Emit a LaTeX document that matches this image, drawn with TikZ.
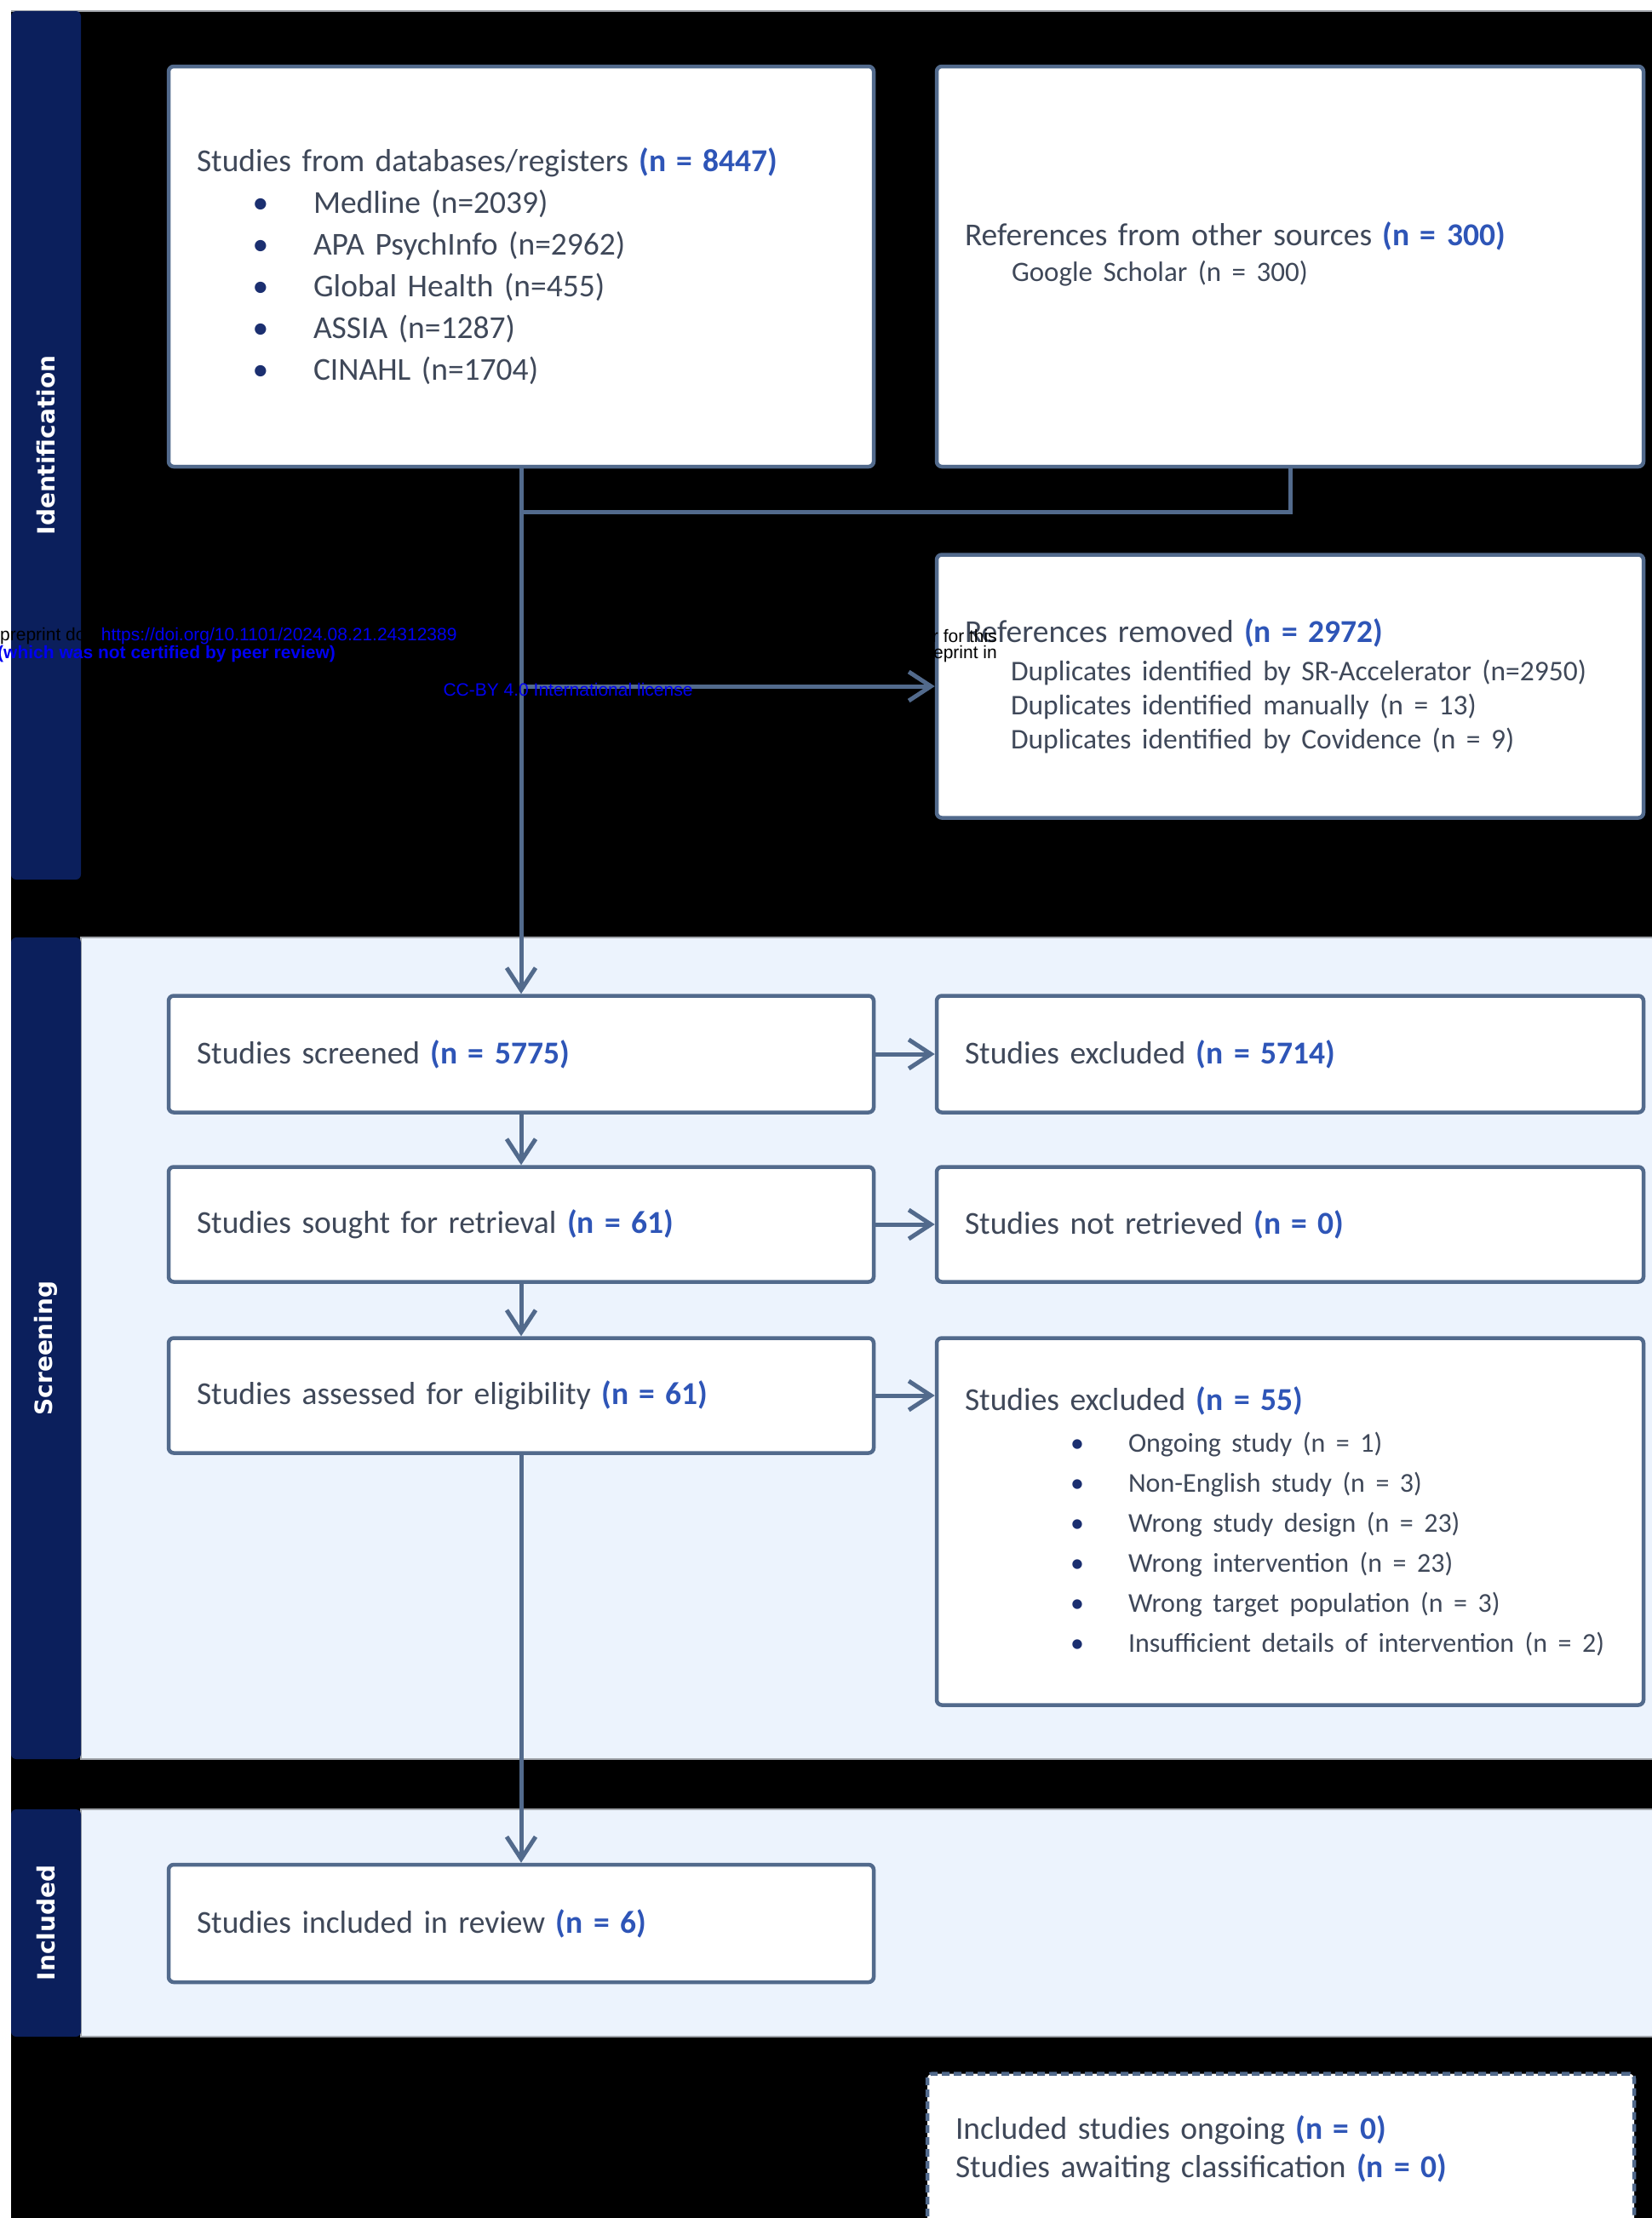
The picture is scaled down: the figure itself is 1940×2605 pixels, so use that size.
\documentclass[tikz,border=0pt]{standalone}
\usepackage{fontspec}
\setmainfont{Carlito}
\newfontfamily\stagefont{DejaVu Sans}
\newfontfamily\markfont{Liberation Sans}
\usetikzlibrary{arrows.meta}
\definecolor{pfText}{HTML}{3F4859}
\definecolor{pfNum}{HTML}{2E55B7}
\definecolor{pfBullet}{HTML}{1B2F70}
\definecolor{pfLine}{HTML}{526A8C}
\definecolor{pfNavy}{HTML}{0B1F5C}
\definecolor{pfBand}{HTML}{ECF3FD}
\definecolor{pfRule}{HTML}{A0A4AA}
\definecolor{pfLink}{HTML}{0000F0}
\newcommand\pfn[1]{\textcolor{pfNum}{\bfseries #1}}
\newcommand\pfitem[3]{\hspace*{#1}\makebox[0pt]{\textcolor{pfBullet}{\textbullet}}\hspace*{#2}#3}
\tikzset{
  pf box/.style={draw=pfLine, fill=white, line width=4.5pt, rounded corners=6pt,
    inner xsep=33pt, inner ysep=0pt, align=left, text=pfText,
    font=\fontsize{37.5}{46}\selectfont},
  pf left/.style={pf box, minimum width=828pt, text width=762pt},
  pf right/.style={pf box, minimum width=830pt, text width=764pt},
  pf flow/.style={draw=pfLine, line width=5pt,
    -{Straight Barb[length=26pt,width=34pt]}},
  pf join/.style={draw=pfLine, line width=5pt},
  pf band/.style={fill=pfBand, draw=pfRule, line width=2pt},
  pf side/.style={fill=pfNavy, rounded corners=6pt},
  pf stage/.style={rotate=90, text=white, font=\stagefont\bfseries\fontsize{28}{34}\selectfont},
  pf mark/.style={inner sep=0pt, text=black, font=\markfont\fontsize{21}{21}\selectfont}
}
\begin{document}
\begin{tikzpicture}[x=1pt,y=-1pt]
  \useasboundingbox (0,0) rectangle (1940,2605);
  \clip (0,0) rectangle (1940,2605);
  \fill[white] (0,0) rectangle (1940,2605);
  \fill[black] (13,13) rectangle (1940,2605);
  \draw[pfRule, line width=2pt] (13,13) -- (1940,13);

  % stage bands
  \path[pf band] (95,1101) rectangle (1960,2066);
  \path[pf band] (95,2125) rectangle (1960,2392);
  \foreach \ya/\yb/\stage in {13/1033/Identification,1101/2066/Screening,2125/2392/Included} {
    \path[pf side] (13,\ya) rectangle (95,\yb);
    \node[pf stage] (stage-\stage) at (54,{(\ya+\yb)/2}) {\stage};
  }

  % identification
  \node[pf left, minimum height=470pt, font=\fontsize{37.5}{49}\selectfont] (dbs) at (612,313)
    {Studies from databases/registers \pfn{(n = 8447)}\\
     \pfitem{75pt}{62pt}{Medline (n=2039)}\\
     \pfitem{75pt}{62pt}{APA PsychInfo (n=2962)}\\
     \pfitem{75pt}{62pt}{Global Health (n=455)}\\
     \pfitem{75pt}{62pt}{ASSIA (n=1287)}\\
     \pfitem{75pt}{62pt}{CINAHL (n=1704)}};
  \node[pf right, minimum height=470pt, font=\fontsize{37.5}{42}\selectfont] (other) at (1515,313)
    {References from other sources \pfn{(n = 300)}\\
     \hspace*{55pt}{\fontsize{33}{42}\selectfont Google Scholar (n = 300)}\\[-8pt]\mbox{}};
  \node[pf right, minimum height=309pt, font=\fontsize{37.5}{40}\selectfont] (removed) at (1515,806)
    {References removed \pfn{(n = 2972)}\\[5pt]
     \hspace*{54pt}{\fontsize{33.5}{40}\selectfont Duplicates identified by SR-Accelerator (n=2950)}\\
     \hspace*{54pt}{\fontsize{33.5}{40}\selectfont Duplicates identified manually (n = 13)}\\
     \hspace*{54pt}{\fontsize{33.5}{40}\selectfont Duplicates identified by Covidence (n = 9)}};

  % screening
  \node[pf left, minimum height=137pt] (screened) at (612,1238) {Studies screened \pfn{(n = 5775)}};
  \node[pf right, minimum height=137pt] (excluded) at (1515,1238) {Studies excluded \pfn{(n = 5714)}};
  \node[pf left, minimum height=135pt] (sought) at (612,1438) {Studies sought for retrieval \pfn{(n = 61)}};
  \node[pf right, minimum height=135pt] (notfound) at (1515,1438) {Studies not retrieved \pfn{(n = 0)}};
  \node[pf left, minimum height=135pt] (assessed) at (612,1639) {Studies assessed for eligibility \pfn{(n = 61)}};
  \node[pf right, minimum height=431pt, font=\fontsize{37.5}{47}\selectfont] (ineligible) at (1515,1787)
    {Studies excluded \pfn{(n = 55)}\\[2pt]
     {\fontsize{32}{47}\selectfont\pfitem{132pt}{60pt}{Ongoing study (n = 1)}}\\
     {\fontsize{32}{47}\selectfont\pfitem{132pt}{60pt}{Non-English study (n = 3)}}\\
     {\fontsize{32}{47}\selectfont\pfitem{132pt}{60pt}{Wrong study design (n = 23)}}\\
     {\fontsize{32}{47}\selectfont\pfitem{132pt}{60pt}{Wrong intervention (n = 23)}}\\
     {\fontsize{32}{47}\selectfont\pfitem{132pt}{60pt}{Wrong target population (n = 3)}}\\
     {\fontsize{32}{47}\selectfont\pfitem{132pt}{60pt}{\mbox{Insufficient details of intervention (n = 2)}}}};

  % included
  \node[pf left, minimum height=138pt] (included) at (612,2259) {Studies included in review \pfn{(n = 6)}};
  \node[pf right, minimum width=829pt, minimum height=177pt, dash pattern=on 9pt off 5pt,
    font=\fontsize{37.5}{45}\selectfont] (ongoing) at (1504,2524)
    {Included studies ongoing \pfn{(n = 0)}\\
     Studies awaiting classification \pfn{(n = 0)}};

  % connectors
  \coordinate (mergeline) at (0,601);
  \coordinate (merge) at (dbs.south |- mergeline);
  \coordinate (split) at (dbs.south |- removed.west);
  \draw[pf join] (other.south) |- (merge);
  \draw[pf flow] (dbs.south) -- (screened.north);
  \draw[pf flow] (split) -- (removed.west);
  \draw[pf flow] (screened.east) -- (excluded.west);
  \draw[pf flow] (screened.south) -- (sought.north);
  \draw[pf flow] (sought.east) -- (notfound.west);
  \draw[pf flow] (sought.south) -- (assessed.north);
  \draw[pf flow] (assessed.east) -- (assessed.east -| ineligible.west);
  \draw[pf flow] (assessed.south) -- (included.north);

  % preprint notice
  \node[pf mark, anchor=west] (markdoi) at (0,747)
    {preprint doi: \textcolor{pfLink}{https://doi.org/10.1101/2024.08.21.24312389}};
  \node[pf mark, anchor=east] (markholder) at (1171,747) {holder for this};
  \node[pf mark, anchor=west, text=pfLink, font=\markfont\bfseries\fontsize{21}{21}\selectfont]
    (markpeer) at (-3,768) {(which was not certified by peer review)};
  \node[pf mark, anchor=east] (markin) at (1171,768) {preprint in};
  \node[pf mark, text=pfLink] (marklicense) at (667,810) {CC-BY 4.0 International license};
\end{tikzpicture}
\end{document}
